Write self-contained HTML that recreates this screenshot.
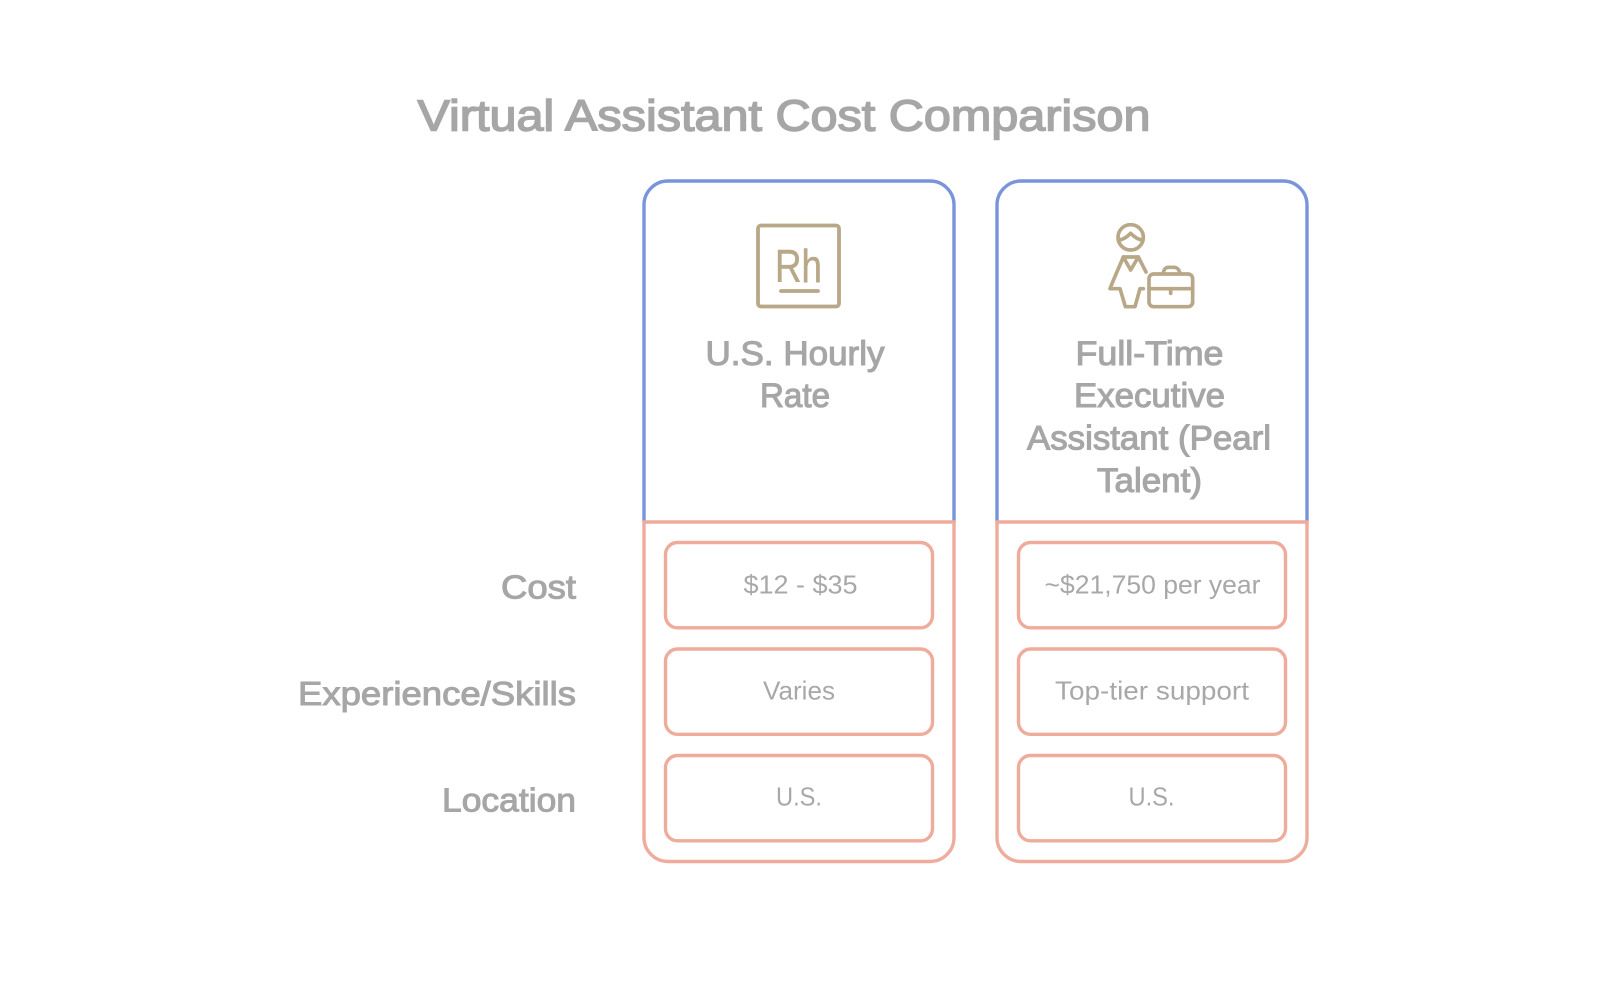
<!DOCTYPE html>
<html lang="en">
<head>
<meta charset="utf-8">
<title>Virtual Assistant Cost Comparison</title>
<style>
html,body{margin:0;padding:0;background:#fff;width:1600px;height:989px;overflow:hidden}
svg{display:block}
text{font-family:"Liberation Sans",sans-serif}
.t{fill:#a6a6a6;stroke:#a6a6a6;stroke-width:1.5px;font-size:44px}
.l{fill:#a6a6a6;stroke:#a6a6a6;stroke-width:1px;font-size:33px}
.h{fill:#a6a6a6;stroke:#a6a6a6;stroke-width:1.1px;font-size:34px}
.v{fill:#a8a8a8;font-size:26px}
</style>
</head>
<body>
<svg width="1600" height="989" viewBox="0 0 1600 989" xmlns="http://www.w3.org/2000/svg">
<rect width="1600" height="989" fill="#fff"/>

<text class="t" x="417.5" y="130.5" textLength="733" lengthAdjust="spacingAndGlyphs">Virtual Assistant Cost Comparison</text>

<g fill="none" stroke="#7a94dc" stroke-width="3.4">
<path d="M644 522V205a24 24 0 0 1 24-24H930a24 24 0 0 1 24 24V522"/>
<path d="M997 522V205a24 24 0 0 1 24-24H1283a24 24 0 0 1 24 24V522"/>
</g>
<g fill="none" stroke="#efab9c" stroke-width="3.4">
<path d="M644 522H954V837.5a24 24 0 0 1-24 24H668a24 24 0 0 1-24-24Z"/>
<path d="M997 522H1307V837.5a24 24 0 0 1-24 24H1021a24 24 0 0 1-24-24Z"/>
<rect x="665.5" y="542.5" width="267" height="85.3" rx="12"/>
<rect x="665.5" y="649" width="267" height="85.3" rx="12"/>
<rect x="665.5" y="755.5" width="267" height="85.3" rx="12"/>
<rect x="1018.5" y="542.5" width="267" height="85.3" rx="12"/>
<rect x="1018.5" y="649" width="267" height="85.3" rx="12"/>
<rect x="1018.5" y="755.5" width="267" height="85.3" rx="12"/>
</g>

<!-- Icon 1 -->
<rect x="758" y="225.5" width="81" height="81" rx="3" fill="none" stroke="#b8a888" stroke-width="3.8"/>
<text x="775" y="282" font-size="46" fill="#b8a888" stroke="#b8a888" stroke-width=".5" textLength="47" lengthAdjust="spacingAndGlyphs">Rh</text>
<line x1="781" y1="291" x2="818" y2="291" stroke="#b8a888" stroke-width="3.8" stroke-linecap="round"/>

<!-- Icon 2 -->
<g transform="translate(1090 210) scale(.33333)" fill="none" stroke="#b8a888" stroke-width="11" stroke-linecap="round" stroke-linejoin="round">
<circle cx="122" cy="82" r="38"/>
<path d="M86 90C100 90 112 80 122 70C132 80 144 90 158 90"/>
<path d="M100 141H145L122 180Z"/>
<path d="M100 141C88 170 72 205 60 236H90L106 290H135L150 236H160"/>
<path d="M145 141L168 186"/>
<rect x="177" y="192" width="131" height="98" rx="14"/>
<path d="M177 236H308"/>
<path d="M242 236V250"/>
<path d="M219 191C222 178 226 172 236 172H252C262 172 267 178 270 191"/>
</g>

<!-- Headers -->
<text class="h" x="705.5" y="365" textLength="179" lengthAdjust="spacingAndGlyphs">U.S. Hourly</text>
<text class="h" x="760" y="407" textLength="70" lengthAdjust="spacingAndGlyphs">Rate</text>
<text class="h" x="1075.5" y="365" textLength="148" lengthAdjust="spacingAndGlyphs">Full-Time</text>
<text class="h" x="1074" y="407" textLength="151" lengthAdjust="spacingAndGlyphs">Executive</text>
<text class="h" x="1027" y="449.5" textLength="244" lengthAdjust="spacingAndGlyphs">Assistant (Pearl</text>
<text class="h" x="1097" y="492" textLength="105" lengthAdjust="spacingAndGlyphs">Talent)</text>

<!-- Row labels -->
<text class="l" x="501" y="598.5" textLength="75" lengthAdjust="spacingAndGlyphs">Cost</text>
<text class="l" x="298" y="705" textLength="278" lengthAdjust="spacingAndGlyphs">Experience/Skills</text>
<text class="l" x="442" y="811.5" textLength="134" lengthAdjust="spacingAndGlyphs">Location</text>

<!-- Values -->
<text class="v" x="743.5" y="593.5" textLength="114" lengthAdjust="spacingAndGlyphs">$12 - $35</text>
<text class="v" x="1044.5" y="593.5" textLength="216" lengthAdjust="spacingAndGlyphs">~$21,750 per year</text>
<text class="v" x="763" y="699.5" textLength="72" lengthAdjust="spacingAndGlyphs">Varies</text>
<text class="v" x="1055" y="699.5" textLength="194" lengthAdjust="spacingAndGlyphs">Top-tier support</text>
<text class="v" x="776" y="805.7" textLength="46" lengthAdjust="spacingAndGlyphs">U.S.</text>
<text class="v" x="1128.5" y="805.7" textLength="46" lengthAdjust="spacingAndGlyphs">U.S.</text>
</svg>
</body>
</html>
